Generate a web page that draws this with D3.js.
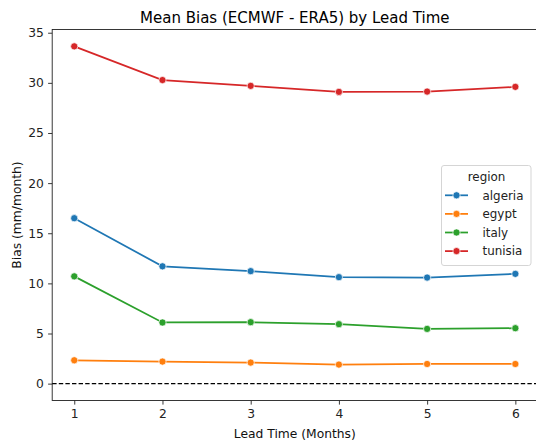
<!DOCTYPE html>
<html>
<head>
<meta charset="utf-8">
<script src="https://cdn.jsdelivr.net/npm/d3@7"></script>
<style>
  html, body { margin: 0; padding: 0; background: #fff; }
  svg { display: block; font-family: "DejaVu Sans", sans-serif; }
</style>
</head>
<body>
<svg id="chart" width="536" height="440"></svg>
<script>
const leadTimes = [1, 2, 3, 4, 5, 6];
const regions = ["algeria", "egypt", "italy", "tunisia"];
const algeria = [16.5, 11.7, 11.22, 10.62, 10.58, 10.95];
const egypt   = [2.33, 2.2, 2.1, 1.9, 1.96, 1.96];
const italy   = [10.7, 6.1, 6.13, 5.93, 5.46, 5.53];
const tunisia = [33.64, 30.28, 29.7, 29.1, 29.13, 29.6];
const colors  = ["#1f77b4", "#ff7f0e", "#2ca02c", "#d62728"];
const yTicks  = [0, 5, 10, 15, 20, 25, 30, 35];
const titleText = "Mean Bias (ECMWF - ERA5) by Lead Time";
const xLabel = "Lead Time (Months)";
const yLabel = "Bias (mm/month)";

(function () {
const seriesValues = [algeria, egypt, italy, tunisia];
const series = regions.map((r, i) => ({
  name: r, color: colors[i],
  points: leadTimes.map((t, j) => ({ x: t, y: seriesValues[i][j] }))
}));

const svg = d3.select("#chart");
const mLeft = 52.2, mRight = 537.4, mTop = 29.5, mBottom = 400.5;
const fs = 12.3;

const xmin = d3.min(leadTimes), xmax = d3.max(leadTimes);
const xpad = (xmax - xmin) * 0.05;
const x = d3.scaleLinear().domain([xmin - xpad, xmax + xpad]).range([mLeft, mRight]);

const allY = seriesValues.flat().concat([0]);
const ymin = d3.min(allY), ymax = d3.max(allY);
const ypad = (ymax - ymin) * 0.05;
const y = d3.scaleLinear().domain([ymin - ypad, ymax + ypad]).range([mBottom, mTop]);

svg.append("text")
  .attr("x", (mLeft + mRight) / 2).attr("y", 22.5)
  .attr("text-anchor", "middle")
  .attr("font-size", 15).attr("fill", "#000")
  .text(titleText);

const xAxis = d3.axisBottom(x).tickValues(leadTimes).tickFormat(d3.format("d"))
  .tickSize(4.1).tickPadding(4.3);
const yAxis = d3.axisLeft(y).tickValues(yTicks).tickFormat(d3.format("d"))
  .tickSize(4.1).tickPadding(4.3);

const gx = svg.append("g").attr("transform", `translate(0,${mBottom})`).call(xAxis);
const gy = svg.append("g").attr("transform", `translate(${mLeft},0)`).call(yAxis);
[gx, gy].forEach(g => {
  g.select(".domain").remove();
  g.selectAll("line").attr("stroke", "#222").attr("stroke-width", 0.9);
  g.selectAll("text").attr("font-size", fs).attr("fill", "#222")
    .attr("font-family", "DejaVu Sans, sans-serif");
});

svg.append("rect")
  .attr("x", mLeft).attr("y", mTop)
  .attr("width", mRight - mLeft).attr("height", mBottom - mTop)
  .attr("fill", "none").attr("stroke", "#222").attr("stroke-width", 0.9);

svg.append("text")
  .attr("x", (mLeft + mRight) / 2).attr("y", 437.5)
  .attr("text-anchor", "middle").attr("font-size", fs).attr("fill", "#111")
  .text(xLabel);
svg.append("text")
  .attr("transform", `translate(20.5,${(mTop + mBottom) / 2}) rotate(-90)`)
  .attr("text-anchor", "middle").attr("font-size", fs).attr("fill", "#111")
  .text(yLabel);

svg.append("line")
  .attr("x1", mLeft).attr("x2", mRight)
  .attr("y1", y(0)).attr("y2", y(0))
  .attr("stroke", "#000").attr("stroke-width", 1.2)
  .attr("stroke-dasharray", "4.4,2.2");

const line = d3.line().x(d => x(d.x)).y(d => y(d.y));
const plot = svg.append("g");
series.forEach(s => {
  plot.append("path").datum(s.points)
    .attr("d", line).attr("fill", "none")
    .attr("stroke", s.color).attr("stroke-width", 1.75);
  plot.selectAll(null).data(s.points).enter().append("circle")
    .attr("cx", d => x(d.x)).attr("cy", d => y(d.y)).attr("r", 3.6)
    .attr("fill", s.color).attr("stroke", "#fff").attr("stroke-width", 0.7);
});

const lg = svg.append("g");
lg.append("rect")
  .attr("x", 441.5).attr("y", 165.5).attr("width", 89.5).attr("height", 100)
  .attr("rx", 2.5).attr("fill", "#fff").attr("fill-opacity", 0.8)
  .attr("stroke", "#d0d0d0").attr("stroke-width", 0.9);
lg.append("text")
  .attr("x", 486.5).attr("y", 180.5).attr("text-anchor", "middle")
  .attr("font-size", 11.9).attr("fill", "#222").text("region");
series.forEach((s, i) => {
  const yy = 195.3 + i * 18.6;
  lg.append("line").attr("x1", 445).attr("x2", 468).attr("y1", yy).attr("y2", yy)
    .attr("stroke", s.color).attr("stroke-width", 1.75);
  lg.append("circle").attr("cx", 456.5).attr("cy", yy).attr("r", 3.6)
    .attr("fill", s.color).attr("stroke", "#fff").attr("stroke-width", 0.7);
  lg.append("text").attr("x", 482.5).attr("y", yy + 4.3)
    .attr("font-size", 11.9).attr("fill", "#222").text(s.name);
});
})();
</script>
</body>
</html>
